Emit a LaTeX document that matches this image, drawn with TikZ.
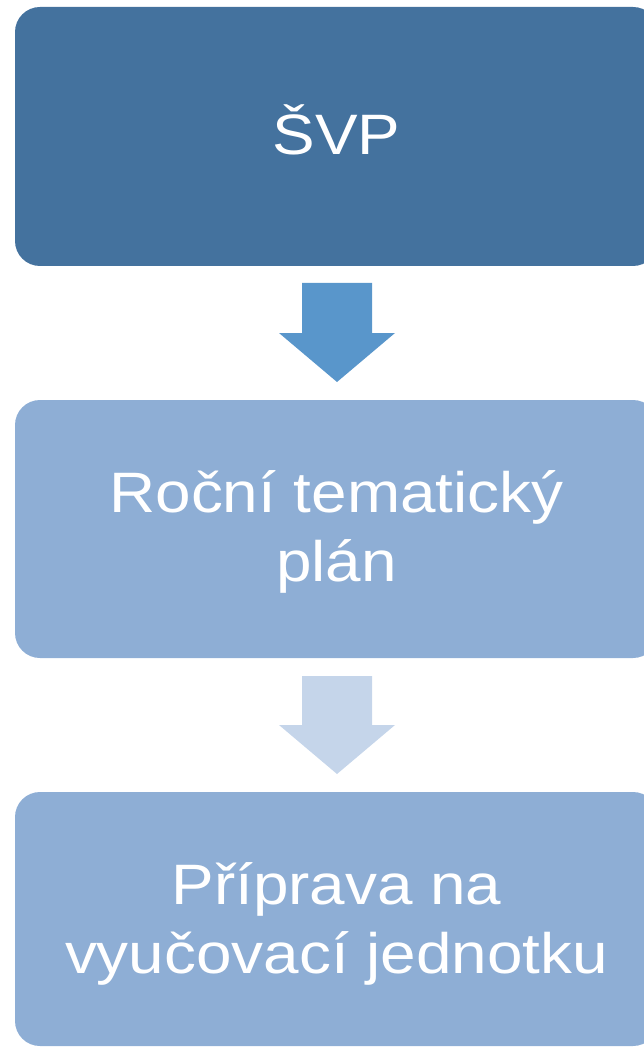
\documentclass[tikz,border=0pt]{standalone}
\usepackage{fontspec}
\setmainfont{Liberation Sans}
\definecolor{boxA}{RGB}{68,114,158}
\definecolor{boxB}{RGB}{142,174,213}
\definecolor{arrA}{RGB}{89,150,203}
\definecolor{arrB}{RGB}{197,213,234}
\newcommand{\hstretch}[1]{\scalebox{1.12}[1]{#1}}
\begin{document}
\begin{tikzpicture}[x=1pt,y=-1pt,
  stage/.style={fill=#1, rounded corners=25pt, draw=none},
  lbl/.style={text=white, font=\fontsize{57}{69}\selectfont, align=center, inner sep=0pt}]
\useasboundingbox (0,0) rectangle (643,1048);
% boxes
\path[stage=boxA] (15,7) rectangle (658,266);
\path[stage=boxB] (15,400) rectangle (658,658);
\path[stage=boxB] (15,792) rectangle (658,1046);
% labels
\node[lbl] (s1) at (336.5,130) {\hstretch{ŠVP}};
\node[lbl] (s2) at (336.5,532) {\hstretch{Roční tematický}\\\hstretch{plán}};
\node[lbl] (s3) at (336.5,924) {\hstretch{Příprava na}\\\hstretch{vyučovací jednotku}};
% arrows
\fill[arrA] (302,283) -- (372,283) -- (372,333) -- (395,333) -- (337,382) -- (279,333) -- (302,333) -- cycle;
\fill[arrB] (302,676) -- (372,676) -- (372,725) -- (395,725) -- (337,774) -- (279,725) -- (302,725) -- cycle;
\end{tikzpicture}
\end{document}
